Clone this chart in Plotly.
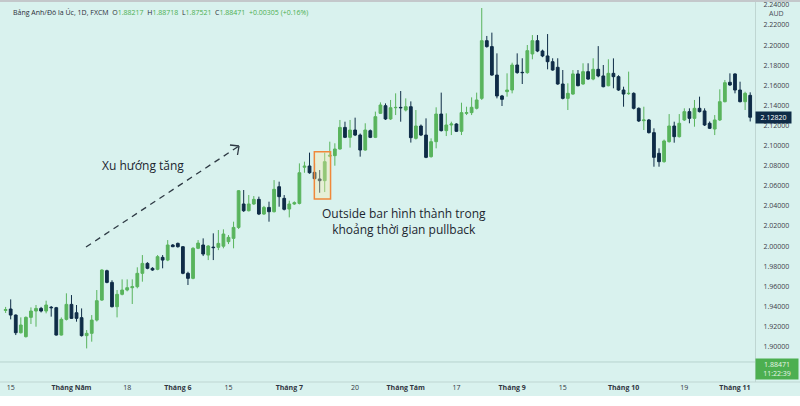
import numpy as np
import pandas as pd
import plotly.graph_objects as go

# ---------------- data (GBP/AUD daily, FXCM) ----------------
dates = pd.bdate_range("2015-04-14", "2015-11-05")

opens = [
    1.9360, 1.9374, 1.9314, 1.9138, 1.9099, 1.9291, 1.9354, 1.9380, 1.9354, 1.9392,
    1.9387, 1.9115, 1.9271, 1.9420, 1.9337, 1.9288, 1.9109, 1.9132, 1.9264, 1.9463,
    1.9755, 1.9639, 1.9397, 1.9520, 1.9563, 1.9586, 1.9596, 1.9729, 1.9828, 1.9779,
    1.9769, 1.9888, 1.9861, 2.0011, 2.0027, 1.9994, 1.9729, 1.9679, 1.9978, 2.0011,
    1.9911, 1.9990, 1.9988, 1.9999, 2.0044, 2.0077, 2.0186, 2.0419, 2.0352, 2.0419,
    2.0465, 2.0319, 2.0385, 2.0342, 2.0591, 2.0475, 2.0369, 2.0419, 2.0425, 2.0785,
    2.0797, 2.0734, 2.0668, 2.0651, 2.0895, 2.0900, 2.0966, 2.1181, 2.1082, 2.1155,
    2.1105, 2.0956, 2.1148, 2.1082, 2.1321, 2.1397, 2.1265, 2.1377, 2.1380, 2.1354,
    2.1387, 2.1072, 2.1195, 2.1105, 2.0890, 2.1039, 2.1314, 2.1149, 2.1205, 2.1215,
    2.1142, 2.1321, 2.1328, 2.1371, 2.1470, 2.2044, 2.1985, 2.1702, 2.1494, 2.1537,
    2.1553, 2.1802, 2.1729, 2.1726, 2.1912, 2.2044, 2.1941, 2.1892, 2.1835, 2.1779,
    2.1613, 2.1470, 2.1513, 2.1713, 2.1613, 2.1736, 2.1662, 2.1759, 2.1693, 2.1596,
    2.1719, 2.1686, 2.1553, 2.1517, 2.1520, 2.1371, 2.1248, 2.1255, 2.1129, 2.0923,
    2.0840, 2.1039, 2.1195, 2.1089, 2.1255, 2.1338, 2.1271, 2.1371, 2.1345, 2.1222,
    2.1165, 2.1255, 2.1437, 2.1630, 2.1713, 2.1553, 2.1437, 2.1500,
]
highs = [
    1.9395, 1.9470, 1.9320, 1.9291, 1.9300, 1.9390, 1.9414, 1.9395, 1.9457, 1.9404,
    1.9395, 1.9290, 1.9530, 1.9513, 1.9414, 1.9380, 1.9165, 1.9314, 1.9563, 1.9770,
    1.9765, 1.9660, 1.9563, 1.9669, 1.9669, 1.9669, 1.9789, 1.9911, 1.9840, 1.9790,
    1.9911, 1.9911, 2.0060, 2.0020, 2.0035, 2.0000, 1.9745, 1.9990, 2.0060, 2.0077,
    2.0010, 2.0127, 2.0160, 2.0167, 2.0110, 2.0243, 2.0558, 2.0558, 2.0508, 2.0498,
    2.0492, 2.0400, 2.0442, 2.0657, 2.0641, 2.0508, 2.0452, 2.0445, 2.0823, 2.0840,
    2.0930, 2.0823, 2.0757, 2.0930, 2.1039, 2.1023, 2.1255, 2.1238, 2.1255, 2.1278,
    2.1120, 2.1222, 2.1160, 2.1338, 2.1430, 2.1420, 2.1454, 2.1520, 2.1543, 2.1470,
    2.1440, 2.1354, 2.1210, 2.1271, 2.1072, 2.1381, 2.1527, 2.1321, 2.1238, 2.1222,
    2.1427, 2.1387, 2.1480, 2.1527, 2.2369, 2.2091, 2.2124, 2.1918, 2.1504, 2.1719,
    2.1825, 2.1918, 2.1869, 2.2001, 2.2100, 2.2100, 2.1955, 2.2110, 2.1869, 2.1869,
    2.1752, 2.1620, 2.1752, 2.1752, 2.1819, 2.1819, 2.1869, 2.1990, 2.1802, 2.1859,
    2.1868, 2.1700, 2.1586, 2.1736, 2.1530, 2.1380, 2.1387, 2.1265, 2.1172, 2.0973,
    2.1060, 2.1314, 2.1238, 2.1314, 2.1371, 2.1371, 2.1454, 2.1487, 2.1371, 2.1240,
    2.1304, 2.1560, 2.1653, 2.1719, 2.1719, 2.1636, 2.1536, 2.1530,
]
lows = [
    1.9335, 1.9271, 1.9115, 1.9130, 1.9090, 1.9225, 1.9198, 1.9340, 1.9331, 1.9298,
    1.9110, 1.9110, 1.9260, 1.9275, 1.9248, 1.9100, 1.8982, 1.9049, 1.9250, 1.9455,
    1.9630, 1.9390, 1.9291, 1.9510, 1.9550, 1.9424, 1.9580, 1.9646, 1.9770, 1.9755,
    1.9760, 1.9779, 1.9850, 1.9990, 1.9985, 1.9720, 1.9613, 1.9670, 1.9970, 1.9901,
    1.9861, 1.9861, 1.9960, 1.9978, 2.0020, 1.9978, 2.0170, 2.0340, 2.0345, 2.0410,
    2.0309, 2.0310, 2.0243, 2.0335, 2.0392, 2.0355, 2.0286, 2.0410, 2.0415, 2.0730,
    2.0720, 2.0660, 2.0531, 2.0538, 2.0885, 2.0800, 2.0960, 2.1075, 2.0980, 2.1095,
    2.0890, 2.0950, 2.1075, 2.1075, 2.1315, 2.1255, 2.1255, 2.1304, 2.1238, 2.1340,
    2.1030, 2.1060, 2.1095, 2.0875, 2.0880, 2.0973, 2.1140, 2.1095, 2.1105, 2.1135,
    2.1105, 2.1304, 2.1304, 2.1360, 2.1454, 2.1975, 2.1695, 2.1470, 2.1394, 2.1487,
    2.1520, 2.1715, 2.1613, 2.1715, 2.1859, 2.1930, 2.1880, 2.1759, 2.1745, 2.1605,
    2.1460, 2.1354, 2.1505, 2.1590, 2.1605, 2.1655, 2.1650, 2.1680, 2.1580, 2.1590,
    2.1570, 2.1545, 2.1387, 2.1505, 2.1360, 2.1235, 2.1155, 2.1120, 2.0790, 2.0790,
    2.0830, 2.1030, 2.1029, 2.1080, 2.1245, 2.1222, 2.1188, 2.1330, 2.1195, 2.1165,
    2.1105, 2.1245, 2.1430, 2.1595, 2.1520, 2.1430, 2.1354, 2.1240,
]
closes = [
    1.9368, 1.9314, 1.9138, 1.9215, 1.9291, 1.9354, 1.9380, 1.9354, 1.9414, 1.9387,
    1.9115, 1.9271, 1.9420, 1.9281, 1.9281, 1.9109, 1.9132, 1.9264, 1.9457, 1.9762,
    1.9639, 1.9397, 1.9520, 1.9563, 1.9586, 1.9596, 1.9729, 1.9828, 1.9779, 1.9762,
    1.9895, 1.9861, 2.0011, 1.9994, 1.9994, 1.9729, 1.9679, 1.9978, 2.0030, 1.9921,
    2.0001, 1.9985, 2.0027, 2.0120, 2.0087, 2.0186, 2.0551, 2.0352, 2.0419, 2.0465,
    2.0319, 2.0385, 2.0342, 2.0565, 2.0492, 2.0366, 2.0419, 2.0432, 2.0730, 2.0795,
    2.0730, 2.0671, 2.0651, 2.0840, 2.0903, 2.0966, 2.1181, 2.1082, 2.1155, 2.1105,
    2.0956, 2.1155, 2.1082, 2.1288, 2.1404, 2.1265, 2.1377, 2.1380, 2.1377, 2.1387,
    2.1079, 2.1195, 2.1105, 2.0883, 2.1039, 2.1314, 2.1149, 2.1205, 2.1215, 2.1142,
    2.1328, 2.1328, 2.1381, 2.1454, 2.2044, 2.1985, 2.1702, 2.1494, 2.1460, 2.1553,
    2.1802, 2.1726, 2.1726, 2.1945, 2.2044, 2.1941, 2.1892, 2.1835, 2.1752, 2.1613,
    2.1470, 2.1520, 2.1713, 2.1596, 2.1736, 2.1662, 2.1759, 2.1693, 2.1586, 2.1719,
    2.1686, 2.1553, 2.1513, 2.1520, 2.1371, 2.1245, 2.1255, 2.1129, 2.0883, 2.0840,
    2.1046, 2.1195, 2.1089, 2.1222, 2.1338, 2.1271, 2.1371, 2.1338, 2.1205, 2.1172,
    2.1255, 2.1437, 2.1626, 2.1603, 2.1553, 2.1437, 2.1520, 2.1282,
]

tick_dates = ["2015-04-15", "2015-05-01", "2015-05-18", "2015-06-01", "2015-06-15",
              "2015-07-01", "2015-07-20", "2015-08-03", "2015-08-17", "2015-09-01",
              "2015-09-15", "2015-10-01", "2015-10-19", "2015-11-02"]
tick_labels = ["15", "<b>Tháng Năm</b>", "18", "<b>Tháng 6</b>", "15", "<b>Tháng 7</b>",
               "20", "<b>Tháng Tám</b>", "17", "<b>Tháng 9</b>", "15", "<b>Tháng 10</b>",
               "19", "<b>Tháng 11</b>"]
price_ticks = [1.90, 1.92, 1.94, 1.96, 1.98, 2.00, 2.02, 2.04, 2.06, 2.08,
               2.10, 2.12, 2.14, 2.16, 2.18, 2.20, 2.22, 2.24]

symbol_title = "Bảng Anh/Đô la Úc, 1D, FXCM"
hdr_open, hdr_high, hdr_low, hdr_close = "1.88217", "1.88718", "1.87521", "1.88471"
hdr_change = "+0.00305 (+0.16%)"
last_price = 1.88471
last_time = "11:22:39"
outside_bar_idx = [61, 62]   # candles (positions) inside the highlight box

trend_text = "Xu hướng tăng"
outside_text = "Outside bar hình thành trong<br>khoảng thời gian pullback"

# ---------------- styling ----------------
BG = "#d9f2ee"
GREEN = "#59b45d"
NAVY = "#0f2c47"
TXT = "#2a2e39"
FONT = "Open Sans"

W, H = 800, 406
PL, PR, PT, PB = 0, 45, 0, 24
PW, PH = W - PL - PR, H - PT - PB

assert len(opens) == len(highs) == len(lows) == len(closes) == len(dates)

xpos = np.arange(len(dates)) - 1          # Apr 15 -> 0
date_pos = {d.strftime("%Y-%m-%d"): p for d, p in zip(dates, xpos)}
tick_pos = [date_pos[d] for d in tick_dates]


def pxx(p):
    return p / PW


def pxy(p):
    return 1 - p / PH


fig = go.Figure()
fig.add_trace(go.Candlestick(
    x=xpos, open=opens, high=highs, low=lows, close=closes,
    increasing=dict(line=dict(color=GREEN, width=1), fillcolor=GREEN),
    decreasing=dict(line=dict(color=NAVY, width=1), fillcolor=NAVY),
    whiskerwidth=0, hoverinfo="skip", showlegend=False,
))

shapes = []
# mint background of whole chart area (white strip below)
shapes.append(dict(type="rect", xref="paper", yref="paper", x0=0, x1=W / PW,
                   y0=pxy(396), y1=1, fillcolor=BG, line=dict(width=0), layer="below"))
# top border
shapes.append(dict(type="line", xref="paper", yref="paper", x0=0, x1=W / PW,
                   y0=pxy(1), y1=pxy(1), line=dict(color="#c4c8cb", width=2)))
# bottom axis separator across full width
shapes.append(dict(type="line", xref="paper", yref="paper", x0=0, x1=W / PW,
                   y0=0, y1=0, line=dict(color="#bfd6d2", width=1)))
# last price line
shapes.append(dict(type="line", xref="paper", yref="y", x0=0, x1=1,
                   y0=last_price, y1=last_price,
                   line=dict(color="#b7d3ce", width=1)))
# outside bar highlight box
ob_lo = min(lows[i + 1] for i in outside_bar_idx)
ob_hi = max(highs[i + 1] for i in outside_bar_idx)
shapes.append(dict(type="rect", xref="x", yref="y",
                   x0=min(outside_bar_idx) - 1.05, x1=max(outside_bar_idx) + 1.15,
                   y0=ob_lo - 0.0062, y1=ob_hi + 0.0009,
                   fillcolor="rgba(255,236,170,0.35)",
                   line=dict(color="#f0883a", width=1.5)))
# dashed trend arrow
shapes.append(dict(type="line", xref="paper", yref="paper",
                   x0=pxx(86), y0=pxy(247), x1=pxx(239), y1=pxy(146),
                   line=dict(color="#2e3a44", width=1.3, dash="6px,5px")))
shapes.append(dict(type="line", xref="paper", yref="paper",
                   x0=pxx(239), y0=pxy(146), x1=pxx(230), y1=pxy(145),
                   line=dict(color="#2e3a44", width=1.3)))
shapes.append(dict(type="line", xref="paper", yref="paper",
                   x0=pxx(239), y0=pxy(146), x1=pxx(237.5), y1=pxy(155),
                   line=dict(color="#2e3a44", width=1.3)))

gspan = "<span style='color:#4caf50'>{}</span>"
header = (f"{symbol_title}\u00a0\u00a0O{gspan.format(hdr_open)}\u00a0\u00a0H{gspan.format(hdr_high)}"
          f"\u00a0\u00a0L{gspan.format(hdr_low)}\u00a0\u00a0C{gspan.format(hdr_close)}"
          f"\u00a0\u00a0{gspan.format(hdr_change)}")

annotations = [
    dict(text=header, xref="paper", yref="paper", x=pxx(11), y=pxy(12),
         xanchor="left", yanchor="middle", showarrow=False,
         font=dict(family=FONT, size=7, color=TXT)),
    dict(text="AUD", xref="paper", yref="paper", x=pxx(776), y=pxy(13.5),
         xanchor="center", yanchor="middle", showarrow=False,
         font=dict(family=FONT, size=7, color="#4a4f57")),
    dict(text=f"{closes[-1]:.5f}", xref="paper", yref="y", x=1.0, y=closes[-1],
         xanchor="left", yanchor="middle", showarrow=False, bgcolor=NAVY,
         width=33, borderpad=1, font=dict(family=FONT, size=7, color="white")),
    dict(text=f"{last_price:.5f}<br>{last_time}", xref="paper", yref="y", x=1.0, y=last_price,
         xanchor="left", yanchor="top", yshift=4, showarrow=False, bgcolor="#4caf50",
         width=40, borderpad=1, font=dict(family=FONT, size=7, color="#e8f5e9")),
    dict(text=trend_text, xref="paper", yref="paper", x=pxx(143), y=pxy(165),
         xanchor="center", yanchor="middle", showarrow=False,
         font=dict(family=FONT, size=12, color="#1c2630")),
    dict(text=outside_text, xref="paper", yref="paper", x=pxx(404), y=pxy(221),
         xanchor="center", yanchor="middle", align="center", showarrow=False,
         font=dict(family=FONT, size=12, color="#1c2630")),
]

fig.update_layout(
    width=W, height=H,
    margin=dict(l=PL, r=PR, t=PT, b=PB, pad=0),
    paper_bgcolor="white", plot_bgcolor=BG,
    boxgap=0.22,
    shapes=shapes, annotations=annotations,
    showlegend=False,
    xaxis=dict(range=[-2.11, 146.95], rangeslider=dict(visible=False),
               showgrid=False, zeroline=False, showline=False,
               tickmode="array", tickvals=tick_pos, ticktext=tick_labels,
               ticks="", tickfont=dict(family=FONT, size=7, color="#2f3440")),
    yaxis=dict(range=[1.86478, 2.24488], side="right", showgrid=False, zeroline=False,
               showline=True, linecolor="#bfd6d2", linewidth=1,
               tickmode="array", tickvals=price_ticks, tickformat=".5f",
               ticks="", ticklabelstandoff=6,
               tickfont=dict(family=FONT, size=7, color="#3c4048")),
)

fig.write_html("out.html")
